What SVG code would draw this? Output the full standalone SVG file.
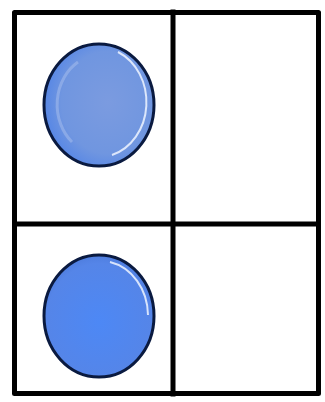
<svg xmlns="http://www.w3.org/2000/svg" width="325" height="402" viewBox="0 0 325 402">
<style>
.frame{fill:none;stroke:#000;stroke-width:5;stroke-linejoin:round}
.line{stroke:#000;stroke-width:5;stroke-linecap:square}
.disc{stroke:#0a1a40;stroke-width:3}
.shine{fill:none;stroke:#eef4ff;stroke-width:2;opacity:0.85}
</style>
<defs>
<radialGradient id="g1" cx="0.58" cy="0.48" r="0.6">
<stop offset="0" stop-color="#7b9be0"/>
<stop offset="0.7" stop-color="#7096e0"/>
<stop offset="1" stop-color="#5485e6"/>
</radialGradient>
<radialGradient id="g2" cx="0.5" cy="0.55" r="0.6">
<stop offset="0" stop-color="#4d88f5"/>
<stop offset="0.8" stop-color="#5585e8"/>
<stop offset="1" stop-color="#4a78d8"/>
</radialGradient>
</defs>
<rect width="325" height="402" fill="#fff"/>
<g id="grid">
<rect class="frame" x="14.5" y="12.5" width="304" height="381"/>
<line class="line" x1="173" y1="12" x2="173" y2="394"/>
<line class="line" x1="15" y1="224" x2="318" y2="224"/>
</g>
<g id="disc-top">
<ellipse class="disc" cx="99" cy="105" rx="55" ry="61" fill="url(#g1)"/>
<path class="shine" d="M118,52 A48,55 0 0 1 112,155"/>
<path d="M78,62 A44,50 0 0 0 72,142" fill="none" stroke="#a9c0ee" stroke-width="3" opacity="0.5"/>
</g>
<g id="disc-bottom">
<ellipse class="disc" cx="99" cy="316" rx="55" ry="61" fill="url(#g2)"/>
<path class="shine" d="M110,262 A48,55 0 0 1 148,315"/>
</g>
</svg>
